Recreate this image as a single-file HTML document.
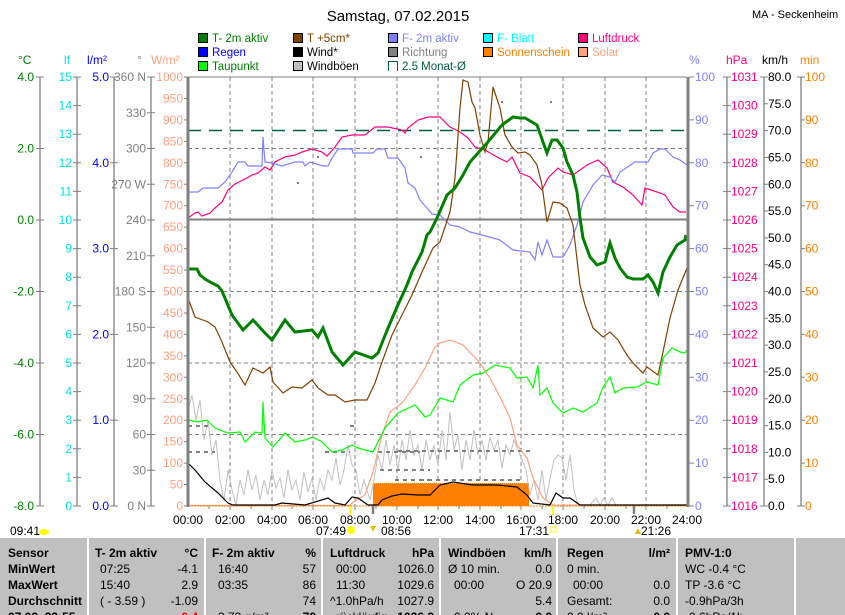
<!DOCTYPE html>
<html><head><meta charset="utf-8"><style>
html,body{margin:0;padding:0;background:#fff;}
svg{display:block;font-family:"Liberation Sans",sans-serif;}
</style></head><body>
<svg width="845" height="615" viewBox="0 0 845 615" xmlns="http://www.w3.org/2000/svg">
<rect width="845" height="615" fill="#fff"/>
<text x="398" y="21" font-size="15" text-anchor="middle" fill="#000">Samstag, 07.02.2015</text>
<text x="752" y="18" font-size="11" fill="#000">MA - Seckenheim</text>

<!-- legend -->
<g font-size="11.5">
<rect x="198.5" y="33.5" width="9" height="9" fill="#008000" stroke="#000"/><text x="212" y="42" fill="#008000">T- 2m aktiv</text>
<rect x="293.5" y="33.5" width="9" height="9" fill="#804000" stroke="#000"/><text x="307" y="42" fill="#804000">T +5cm*</text>
<rect x="388.5" y="33.5" width="9" height="9" fill="#8080ff" stroke="#000"/><text x="402" y="42" fill="#8080ff">F- 2m aktiv</text>
<rect x="483.5" y="33.5" width="9" height="9" fill="#00ffff" stroke="#000"/><text x="497" y="42" fill="#00ffff">F- Blatt</text>
<rect x="578.5" y="33.5" width="9" height="9" fill="#ff0080" stroke="#000"/><text x="592" y="42" fill="#ff0080">Luftdruck</text>
<rect x="198.5" y="47.5" width="9" height="9" fill="#0000ff" stroke="#000"/><text x="212" y="56" fill="#0000ff">Regen</text>
<rect x="293.5" y="47.5" width="9" height="9" fill="#000" stroke="#000"/><text x="307" y="56" fill="#000">Wind*</text>
<rect x="388.5" y="47.5" width="9" height="9" fill="#808080" stroke="#000"/><text x="402" y="56" fill="#808080">Richtung</text>
<rect x="483.5" y="47.5" width="9" height="9" fill="#ff8000" stroke="#000"/><text x="497" y="56" fill="#ff8000">Sonnenschein</text>
<rect x="578.5" y="47.5" width="9" height="9" fill="#ffa080" stroke="#000"/><text x="592" y="56" fill="#ffa080">Solar</text>
<rect x="198.5" y="61.5" width="9" height="9" fill="#00ff00" stroke="#000"/><text x="212" y="70" fill="#008000">Taupunkt</text>
<rect x="293.5" y="61.5" width="9" height="9" fill="#c0c0c0" stroke="#000"/><text x="307" y="70" fill="#000">Windböen</text>
<path d="M388.5 71 V61.5 H397.5 V71" fill="none" stroke="#006040"/><text x="402" y="70" fill="#006040">2.5 Monat-Ø</text>
</g>

<!-- units -->
<g font-size="12">
<text x="18" y="64" fill="#008000">°C</text>
<text x="64" y="64" fill="#00e0e0">lf</text>
<text x="87" y="64" fill="#0000ff">l/m²</text>
<text x="137" y="64" fill="#808080">°</text>
<text x="151" y="64" fill="#ffa080">W/m²</text>
<text x="689" y="64" fill="#8080ff">%</text>
<text x="726" y="64" fill="#ff0080">hPa</text>
<text x="762" y="64" fill="#000">km/h</text>
<text x="800" y="64" fill="#ff8000">min</text>
</g>

<!-- axis spines -->
<g stroke="#808080" stroke-width="1.3">
<line x1="40" y1="77" x2="40" y2="506"/>
<line x1="77" y1="77" x2="77" y2="506"/>
<line x1="114" y1="77" x2="114" y2="506"/>
<line x1="151" y1="77" x2="151" y2="506"/>
<line x1="727" y1="77" x2="727" y2="506"/>
<line x1="764" y1="77" x2="764" y2="506"/>
<line x1="801" y1="77" x2="801" y2="506"/>
</g>

<!-- grid -->
<g stroke="#808080" stroke-width="1" stroke-dasharray="4,3">
<line x1="230" y1="77" x2="230" y2="506"/><line x1="272" y1="77" x2="272" y2="506"/>
<line x1="313" y1="77" x2="313" y2="506"/><line x1="355" y1="77" x2="355" y2="506"/>
<line x1="397" y1="77" x2="397" y2="506"/><line x1="438" y1="77" x2="438" y2="506"/>
<line x1="480" y1="77" x2="480" y2="506"/><line x1="521" y1="77" x2="521" y2="506"/>
<line x1="563" y1="77" x2="563" y2="506"/><line x1="605" y1="77" x2="605" y2="506"/>
<line x1="646" y1="77" x2="646" y2="506"/>
<line x1="188" y1="148.5" x2="687" y2="148.5"/>
<line x1="188" y1="291.5" x2="687" y2="291.5"/>
<line x1="188" y1="363" x2="687" y2="363"/>
<line x1="188" y1="434.5" x2="687" y2="434.5"/>
</g>
<line x1="188" y1="219.5" x2="687" y2="219.5" stroke="#808080" stroke-width="2"/>
<line x1="188" y1="130.5" x2="687" y2="130.5" stroke="#006040" stroke-width="1.5" stroke-dasharray="13,8"/>
<line x1="188" y1="77" x2="687" y2="77" stroke="#808080" stroke-width="1"/>

<!-- sunshine -->
<rect x="373" y="483" width="156" height="23" fill="#ff8000"/>
<line x1="373" y1="483.5" x2="529" y2="483.5" stroke="#ffc080" stroke-dasharray="1,1"/>

<!-- windboen -->
<polyline fill="none" stroke="#c0c0c0" stroke-width="1" points="188,410 192,395 196,420 200,400 204,440 208,420 212,455 216,440 220,480 224,500 228,470 232,490 236,505 240,480 244,495 248,470 252,490 256,475 260,500 264,480 268,495 272,470 276,488 280,478 284,498 288,470 292,490 296,480 300,500 304,472 308,492 312,478 316,500 320,478 324,490 328,470 332,480 336,458 340,485 344,470 348,445 352,465 356,470 360,495 364,480 370,500 374,480 378,455 382,470 386,440 390,465 394,445 398,470 402,440 406,460 410,430 414,455 418,445 422,470 426,440 430,460 434,445 438,465 442,430 446,460 450,412 454,450 458,435 462,470 466,440 470,460 474,430 478,455 482,440 486,460 490,437 494,450 498,440 502,468 506,445 510,455 514,440 518,450 522,460 526,470 530,495 534,480 538,500 542,470 546,500 550,478 554,460 558,455 562,458 566,480 570,455 574,490 578,505 590,505 596,498 600,505 604,498 608,505 612,498 616,505 687,505"/>

<!-- richtung dashes -->
<g stroke="#808080" stroke-width="2" stroke-dasharray="4,4">
<line x1="188" y1="426" x2="210" y2="426"/><line x1="350" y1="426" x2="358" y2="426"/>
<line x1="188" y1="452" x2="215" y2="452"/><line x1="325" y1="452" x2="350" y2="452"/><line x1="378" y1="452" x2="420" y2="452"/>
<line x1="398" y1="451" x2="530" y2="451"/><line x1="420" y1="480" x2="520" y2="480"/>
<line x1="380" y1="470" x2="430" y2="470"/><line x1="395" y1="480" x2="435" y2="480"/>
</g>

<!-- solar -->
<polyline fill="none" stroke="#ffa080" stroke-width="1.2" points="188,505.5 350,505.5 352,503 365,495 373,472 382,435 390,412 402,403 415,385 425,368 435,347 440,343 450,340 463,345 480,363 490,378 500,397 510,418 517,445 527,458 533,478 543,498 553,505 687,505.5"/>
<line x1="188" y1="506" x2="687" y2="506" stroke="#ff8000" stroke-dasharray="2,1"/>

<!-- taupunkt -->
<polyline fill="none" stroke="#00ff00" stroke-width="1.2" points="188,420 198,422 207,420 215,428 228,433 240,432 245,442 255,432 262,433 263,402 265,438 273,447 285,433 295,442 305,440 313,437 322,442 332,452 342,450 352,445 358,448 373,452 385,428 398,413 415,405 425,417 430,415 440,398 453,402 460,385 473,375 483,373 495,365 510,368 517,378 527,377 533,388 538,365 540,395 547,388 553,403 563,413 573,408 583,412 597,403 603,387 610,377 615,393 623,388 637,387 647,382 658,385 663,358 672,348 680,352 685,353 687,350"/>

<!-- wind -->
<polyline fill="none" stroke="#000" stroke-width="1.2" points="188,463 195,470 205,482 218,493 228,503 233,505 275,505 282,503 305,505 328,498 335,503 345,505 352,497 358,498 368,505 378,505 382,500 392,496 402,494 418,495 430,495 440,485 453,482 473,485 497,485 517,487 527,495 533,503 550,505 556,493 563,498 570,498 580,505 687,505"/>

<!-- luftdruck -->
<polyline fill="none" stroke="#ff0080" stroke-width="1.2" points="188,218 195,213 198,212 202,216 210,213 215,208 222,202 228,190 235,184 245,179 252,175 258,173 265,167 270,170 275,162 285,157 295,155 302,152 312,149 322,152 327,156 335,147 342,137 352,135 365,135 375,127 388,127 402,130 405,133 408,128 418,120 428,117 440,117 450,127 460,132 468,138 475,147 485,150 497,157 507,162 512,157 520,173 530,177 542,190 548,178 558,168 563,172 573,175 587,165 598,160 607,168 613,182 623,187 633,195 642,205 645,188 657,192 665,195 673,207 680,212 686,212"/>

<!-- F 2m -->
<polyline fill="none" stroke="#8080ff" stroke-width="1.2" points="188,192 198,192 203,188 218,188 225,182 232,172 238,162 245,162 248,166 262,166 263,137 265,162 272,163 282,166 295,162 303,162 305,166 310,162 323,166 328,166 332,158 338,149 352,149 353,153 373,153 377,149 385,149 388,158 398,158 405,168 408,183 415,188 420,200 427,208 432,214 440,215 450,225 460,227 470,232 482,235 500,240 513,250 530,252 535,260 538,242 542,255 547,240 553,257 563,257 570,245 577,225 583,202 593,185 602,175 610,177 615,182 620,172 635,162 648,162 653,153 660,149 665,149 673,157 680,160 687,165"/>

<!-- T +5cm -->
<polyline fill="none" stroke="#804000" stroke-width="1.2" points="188,298 195,317 208,322 215,327 222,342 230,362 237,372 245,385 253,368 263,373 270,367 273,382 283,393 292,387 302,388 312,380 318,388 328,395 335,395 345,402 355,400 367,400 375,383 382,362 392,335 402,315 412,295 422,272 433,248 440,242 450,212 455,178 460,108 463,80 468,82 472,102 475,108 480,135 485,152 488,142 493,87 500,108 505,135 512,147 518,153 525,152 530,155 537,165 542,185 547,222 553,202 560,203 567,208 573,225 580,285 585,305 593,328 603,337 610,332 618,340 627,355 633,363 643,373 647,367 658,375 663,352 670,318 678,290 687,268"/>

<!-- T 2m -->
<polyline fill="none" stroke="#008000" stroke-width="3" points="188,269 197,269 200,275 205,279 212,283 218,286 222,291 232,315 243,330 253,320 265,333 272,340 285,320 295,332 312,330 318,337 323,328 332,352 343,365 355,352 372,358 378,353 388,328 397,307 407,285 412,272 422,252 427,235 430,232 437,218 447,195 455,188 463,175 470,162 487,143 502,125 513,117 520,118 525,118 537,125 543,142 547,153 552,140 557,140 563,148 567,162 573,175 577,192 580,218 583,238 590,257 597,265 605,262 610,243 615,258 620,268 627,277 633,279 643,279 648,275 653,282 658,293 663,272 670,257 677,245 685,240 686,235"/>

<!-- scattered gray dots -->
<g fill="#808080"><rect x="297" y="182" width="2" height="2"/><rect x="317" y="156" width="2" height="2"/><rect x="420" y="156" width="2" height="2"/><rect x="501" y="101" width="2" height="2"/><rect x="550" y="101" width="2" height="2"/></g>

<!-- plot borders -->
<line x1="188" y1="77" x2="188" y2="507" stroke="#808080" stroke-width="3"/>
<line x1="688" y1="77" x2="688" y2="507" stroke="#808080" stroke-width="3"/>

<!-- left tick marks -->
<g stroke="#808080" stroke-width="1">
<path d="M36 77H44M36 148.5H44M36 220H44M36 291.5H44M36 363H44M36 434.5H44M36 506H44"/>
<path d="M73 77H81M73 105.6H81M73 134.2H81M73 162.8H81M73 191.4H81M73 220H81M73 248.6H81M73 277.2H81M73 305.8H81M73 334.4H81M73 363H81M73 391.6H81M73 420.2H81M73 448.8H81M73 477.4H81M73 506H81"/>
<path d="M110 77H118M110 162.8H118M110 248.6H118M110 334.4H118M110 420.2H118M110 506H118"/>
<path d="M147 77H155M147 112.75H155M147 148.5H155M147 184.25H155M147 220H155M147 255.75H155M147 291.5H155M147 327.25H155M147 363H155M147 398.75H155M147 434.5H155M147 470.25H155M147 506H155"/>
<path d="M184 77H188M184 98.45H188M184 119.9H188M184 141.35H188M184 162.8H188M184 184.25H188M184 205.7H188M184 227.15H188M184 248.6H188M184 270.05H188M184 291.5H188M184 312.95H188M184 334.4H188M184 355.85H188M184 377.3H188M184 398.75H188M184 420.2H188M184 441.65H188M184 463.1H188M184 484.55H188M184 506H188"/>
<path d="M689 77H694M689 119.9H694M689 162.8H694M689 205.7H694M689 248.6H694M689 291.5H694M689 334.4H694M689 377.3H694M689 420.2H694M689 463.1H694M689 506H694"/>
<path d="M723 77H731M723 105.6H731M723 134.2H731M723 162.8H731M723 191.4H731M723 220H731M723 248.6H731M723 277.2H731M723 305.8H731M723 334.4H731M723 363H731M723 391.6H731M723 420.2H731M723 448.8H731M723 477.4H731M723 506H731"/>
<path d="M760 77H768M764 103.8H768M764 130.6H768M764 157.4H768M764 184.25H768M764 211H768M764 237.9H768M764 264.7H768M764 291.5H768M764 318.3H768M764 345.1H768M764 371.9H768M764 398.75H768M764 425.6H768M764 452.4H768M764 479.2H768M760 506H768"/>
<path d="M797 77H805M801 119.9H805M801 162.8H805M801 205.7H805M801 248.6H805M801 291.5H805M801 334.4H805M801 377.3H805M801 420.2H805M801 463.1H805M797 506H805"/>
</g>

<g font-size="12">
<g fill="#008000" text-anchor="end">
<text x="34" y="81">4.0</text><text x="34" y="152.5">2.0</text><text x="34" y="224">0.0</text><text x="34" y="295.5">-2.0</text><text x="34" y="367">-4.0</text><text x="34" y="438.5">-6.0</text><text x="34" y="510">-8.0</text>
</g>
<g fill="#00e0e0" text-anchor="end">
<text x="72" y="81">15</text><text x="72" y="109.6">14</text><text x="72" y="138.2">13</text><text x="72" y="166.8">12</text><text x="72" y="195.4">11</text><text x="72" y="224">10</text><text x="72" y="252.6">9</text><text x="72" y="281.2">8</text><text x="72" y="309.8">7</text><text x="72" y="338.4">6</text><text x="72" y="367">5</text><text x="72" y="395.6">4</text><text x="72" y="424.2">3</text><text x="72" y="452.8">2</text><text x="72" y="481.4">1</text><text x="72" y="510">0</text>
</g>
<g fill="#0000ff" text-anchor="end">
<text x="109" y="81">5.0</text><text x="109" y="166.8">4.0</text><text x="109" y="252.6">3.0</text><text x="109" y="338.4">2.0</text><text x="109" y="424.2">1.0</text><text x="109" y="510">0.0</text>
</g>
<g fill="#808080" text-anchor="end">
<text x="146" y="81">360 N</text><text x="146" y="116.75">330</text><text x="146" y="152.5">300</text><text x="146" y="188.25">270 W</text><text x="146" y="224">240</text><text x="146" y="259.75">210</text><text x="146" y="295.5">180 S</text><text x="146" y="331.25">150</text><text x="146" y="367">120</text><text x="146" y="402.75">90</text><text x="146" y="438.5">60</text><text x="146" y="474.25">30</text><text x="146" y="510">0 N</text>
</g>
<g fill="#ffa080" text-anchor="end">
<text x="183" y="81">1000</text><text x="183" y="102.45">950</text><text x="183" y="123.9">900</text><text x="183" y="145.35">850</text><text x="183" y="166.8">800</text><text x="183" y="188.25">750</text><text x="183" y="209.7">700</text><text x="183" y="231.15">650</text><text x="183" y="252.6">600</text><text x="183" y="274.05">550</text><text x="183" y="295.5">500</text><text x="183" y="316.95">450</text><text x="183" y="338.4">400</text><text x="183" y="359.85">350</text><text x="183" y="381.3">300</text><text x="183" y="402.75">250</text><text x="183" y="424.2">200</text><text x="183" y="445.65">150</text><text x="183" y="467.1">100</text><text x="183" y="488.55">50</text><text x="183" y="510">0</text>
</g>
<g fill="#8080ff">
<text x="695" y="81">100</text><text x="695" y="123.9">90</text><text x="695" y="166.8">80</text><text x="695" y="209.7">70</text><text x="695" y="252.6">60</text><text x="695" y="295.5">50</text><text x="695" y="338.4">40</text><text x="695" y="381.3">30</text><text x="695" y="424.2">20</text><text x="695" y="467.1">10</text><text x="695" y="510">0</text>
</g>
<g fill="#ff0080">
<text x="731" y="81">1031</text><text x="731" y="109.6">1030</text><text x="731" y="138.2">1029</text><text x="731" y="166.8">1028</text><text x="731" y="195.4">1027</text><text x="731" y="224">1026</text><text x="731" y="252.6">1025</text><text x="731" y="281.2">1024</text><text x="731" y="309.8">1023</text><text x="731" y="338.4">1022</text><text x="731" y="367">1021</text><text x="731" y="395.6">1020</text><text x="731" y="424.2">1019</text><text x="731" y="452.8">1018</text><text x="731" y="481.4">1017</text><text x="731" y="510">1016</text>
</g>
<g fill="#000">
<text x="768" y="81">80.0</text><text x="768" y="107.8">75.0</text><text x="768" y="134.6">70.0</text><text x="768" y="161.4">65.0</text><text x="768" y="188.25">60.0</text><text x="768" y="215">55.0</text><text x="768" y="241.9">50.0</text><text x="768" y="268.7">45.0</text><text x="768" y="295.5">40.0</text><text x="768" y="322.3">35.0</text><text x="768" y="349.1">30.0</text><text x="768" y="375.9">25.0</text><text x="768" y="402.75">20.0</text><text x="768" y="429.6">15.0</text><text x="768" y="456.4">10.0</text><text x="768" y="483.2">5.0</text><text x="768" y="510">0.0</text>
</g>
<g fill="#ff8000">
<text x="805" y="81">100</text><text x="805" y="123.9">90</text><text x="805" y="166.8">80</text><text x="805" y="209.7">70</text><text x="805" y="252.6">60</text><text x="805" y="295.5">50</text><text x="805" y="338.4">40</text><text x="805" y="381.3">30</text><text x="805" y="424.2">20</text><text x="805" y="467.1">10</text><text x="805" y="510">0</text>
</g>

<!-- time axis -->
<g stroke="#808080"><path d="M209 506v3M230 506v4M251 506v3M272 506v4M292 506v3M313 506v4M334 506v3M355 506v4M376 506v3M397 506v4M418 506v3M438 506v4M459 506v3M480 506v4M501 506v3M521 506v4M542 506v3M563 506v4M584 506v3M605 506v4M626 506v3M646 506v4M667 506v3"/></g>
<path d="M373 506v8M634 506v8" stroke="#808080" stroke-width="2.5"/>
<path d="M350 506v9M553 506v9" stroke="#ffff00" stroke-width="2"/>
<g fill="#000" text-anchor="middle">
<text x="188" y="524">00:00</text><text x="230" y="524">02:00</text><text x="272" y="524">04:00</text><text x="313" y="524">06:00</text><text x="355" y="524">08:00</text><text x="397" y="524">10:00</text><text x="438" y="524">12:00</text><text x="480" y="524">14:00</text><text x="521" y="524">16:00</text><text x="563" y="524">18:00</text><text x="605" y="524">20:00</text><text x="646" y="524">22:00</text><text x="687" y="524">24:00</text>
</g>
<text x="10" y="535">09:41</text>
<text x="316" y="535">07:49</text>
<text x="381" y="535">08:56</text>
<text x="519" y="535">17:31</text>
<text x="641" y="535">21:26</text>
</g>
<ellipse cx="44" cy="532" rx="5" ry="3" fill="#ffff00"/>
<circle cx="351" cy="530" r="4" fill="#ffff00"/>
<path d="M370 526l3 6 3-6z" fill="#e0c000"/>
<rect x="551" y="527" width="5" height="5" fill="none" stroke="#ffff00"/>
<path d="M635 534l3-6 3 6z" fill="#e0c000"/>

<!-- table -->
<rect x="0" y="538" width="845" height="77" fill="#c0c0c0"/>
<g stroke="#fff" stroke-width="2"><path d="M88 538V615M205 538V615M322 538V615M440 538V615M557 538V615M677 538V615M795 538V615"/></g>
<g font-size="12" fill="#000">
<g font-weight="bold">
<text x="8" y="557">Sensor</text><text x="8" y="573">MinWert</text><text x="8" y="589">MaxWert</text><text x="8" y="605">Durchschnitt</text><text x="8" y="621">07.02. 23:55</text>
<text x="95" y="557">T- 2m aktiv</text><text x="198" y="557" text-anchor="end">°C</text>
<text x="212" y="557">F- 2m aktiv</text><text x="316" y="557" text-anchor="end">%</text>
<text x="330" y="557">Luftdruck</text><text x="434" y="557" text-anchor="end">hPa</text>
<text x="448" y="557">Windböen</text><text x="552" y="557" text-anchor="end">km/h</text>
<text x="567" y="557">Regen</text><text x="670" y="557" text-anchor="end">l/m²</text>
<text x="685" y="557">PMV-1:0</text>
</g>
<text x="100" y="573">07:25</text><text x="198" y="573" text-anchor="end">-4.1</text>
<text x="100" y="589">15:40</text><text x="198" y="589" text-anchor="end">2.9</text>
<text x="100" y="605">( - 3.59 )</text><text x="198" y="605" text-anchor="end">-1.09</text>
<text x="198" y="621" text-anchor="end" fill="#ff0000" font-weight="bold">0.4</text>
<text x="218" y="573">16:40</text><text x="316" y="573" text-anchor="end">57</text>
<text x="218" y="589">03:35</text><text x="316" y="589" text-anchor="end">86</text>
<text x="316" y="605" text-anchor="end">74</text>
<text x="218" y="621">3.73 g/m³</text><text x="316" y="621" text-anchor="end" font-weight="bold">79</text>
<text x="336" y="573">00:00</text><text x="434" y="573" text-anchor="end">1026.0</text>
<text x="336" y="589">11:30</text><text x="434" y="589" text-anchor="end">1029.6</text>
<text x="330" y="605">^1.0hPa/h</text><text x="434" y="605" text-anchor="end">1027.9</text>
<text x="336" y="621">rückläufig</text><text x="434" y="621" text-anchor="end" font-weight="bold">1026.3</text>
<text x="448" y="573">Ø 10 min.</text><text x="552" y="573" text-anchor="end">0.0</text>
<text x="454" y="589">00:00</text><text x="552" y="589" text-anchor="end">O 20.9</text>
<text x="552" y="605" text-anchor="end">5.4</text>
<text x="454" y="621">0.0% N</text><text x="552" y="621" text-anchor="end" font-weight="bold">0.0</text>
<text x="567" y="573">0 min.</text>
<text x="573" y="589">00:00</text><text x="670" y="589" text-anchor="end">0.0</text>
<text x="567" y="605">Gesamt:</text><text x="670" y="605" text-anchor="end">0.0</text>
<text x="567" y="621">0.0 l/m²</text><text x="670" y="621" text-anchor="end" font-weight="bold">0.0</text>
<text x="685" y="573">WC -0.4 °C</text>
<text x="685" y="589">TP -3.6 °C</text>
<text x="685" y="605">-0.9hPa/3h</text>
<text x="685" y="621">-0.6hPa/1h</text>
</g>
</svg>
</body></html>
